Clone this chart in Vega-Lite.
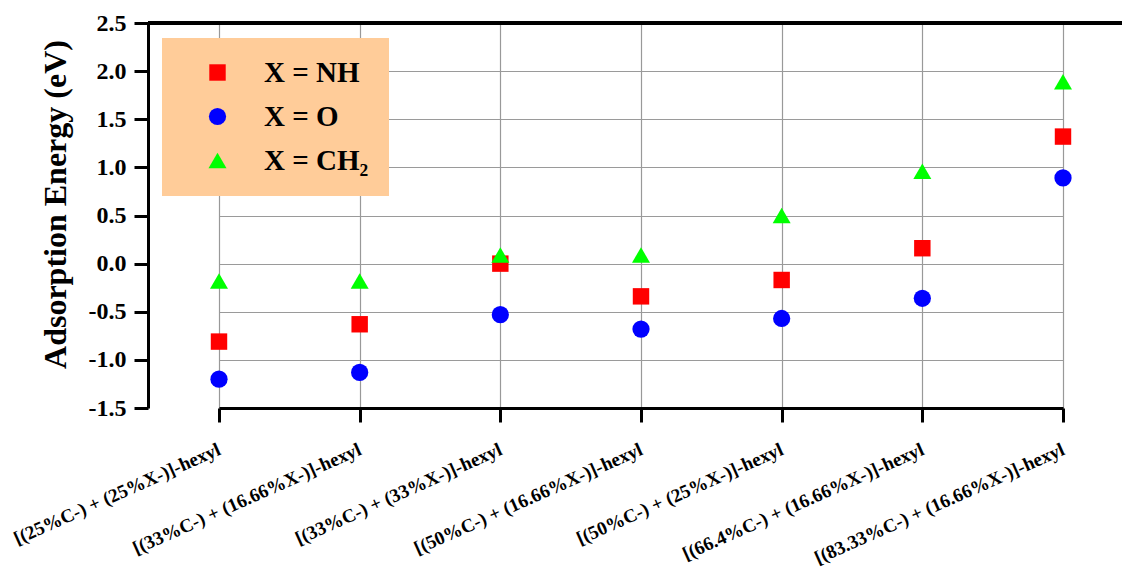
{
  "$schema": "https://vega.github.io/schema/vega-lite/v6.json",
  "autosize": {"type": "none"},
  "padding": {"left": 148, "top": 23, "right": 0, "bottom": 160},
  "width": 974,
  "height": 385,
  "config": {
    "view": {"stroke": null},
    "font": "Liberation Serif"
  },
  "data": {
    "values": [
      {"cat": "[(25%C-) + (25%X-)]-hexyl", "series": "X = NH", "energy": -0.81},
      {"cat": "[(25%C-) + (25%X-)]-hexyl", "series": "X = O", "energy": -1.2},
      {"cat": "[(25%C-) + (25%X-)]-hexyl", "series": "X = CH₂", "energy": -0.18},
      {"cat": "[(33%C-) + (16.66%X-)]-hexyl", "series": "X = NH", "energy": -0.63},
      {"cat": "[(33%C-) + (16.66%X-)]-hexyl", "series": "X = O", "energy": -1.13},
      {"cat": "[(33%C-) + (16.66%X-)]-hexyl", "series": "X = CH₂", "energy": -0.18},
      {"cat": "[(33%C-) + (33%X-)]-hexyl", "series": "X = NH", "energy": 0.0},
      {"cat": "[(33%C-) + (33%X-)]-hexyl", "series": "X = O", "energy": -0.53},
      {"cat": "[(33%C-) + (33%X-)]-hexyl", "series": "X = CH₂", "energy": 0.09},
      {"cat": "[(50%C-) + (16.66%X-)]-hexyl", "series": "X = NH", "energy": -0.34},
      {"cat": "[(50%C-) + (16.66%X-)]-hexyl", "series": "X = O", "energy": -0.68},
      {"cat": "[(50%C-) + (16.66%X-)]-hexyl", "series": "X = CH₂", "energy": 0.09},
      {"cat": "[(50%C-) + (25%X-)]-hexyl", "series": "X = NH", "energy": -0.17},
      {"cat": "[(50%C-) + (25%X-)]-hexyl", "series": "X = O", "energy": -0.57},
      {"cat": "[(50%C-) + (25%X-)]-hexyl", "series": "X = CH₂", "energy": 0.5},
      {"cat": "[(66.4%C-) + (16.66%X-)]-hexyl", "series": "X = NH", "energy": 0.16},
      {"cat": "[(66.4%C-) + (16.66%X-)]-hexyl", "series": "X = O", "energy": -0.36},
      {"cat": "[(66.4%C-) + (16.66%X-)]-hexyl", "series": "X = CH₂", "energy": 0.96},
      {"cat": "[(83.33%C-) + (16.66%X-)]-hexyl", "series": "X = NH", "energy": 1.32},
      {"cat": "[(83.33%C-) + (16.66%X-)]-hexyl", "series": "X = O", "energy": 0.89},
      {"cat": "[(83.33%C-) + (16.66%X-)]-hexyl", "series": "X = CH₂", "energy": 1.89}
    ]
  },
  "layer": [
    {
      "mark": {"type": "point", "filled": true, "opacity": 1},
      "encoding": {
        "x": {
          "field": "cat",
          "type": "nominal",
          "sort": null,
          "scale": {"type": "point", "range": [71, 915], "padding": 0},
          "axis": {
            "title": null,
            "labelAngle": -24,
            "labelAlign": "right",
            "labelBaseline": "middle",
            "labelFont": "Liberation Serif",
            "labelFontWeight": "bold",
            "labelFontSize": 19,
            "labelColor": "black",
            "labelPadding": 26,
            "labelOverlap": false,
            "labelLimit": 400,
            "tickSize": 14,
            "tickWidth": 3,
            "tickColor": "black",
            "domainColor": "black",
            "domainWidth": 3,
            "grid": true,
            "gridColor": "#999999",
            "gridWidth": 1.2
          }
        },
        "y": {
          "field": "energy",
          "type": "quantitative",
          "scale": {"domain": [-1.5, 2.5], "nice": false, "zero": false},
          "axis": {
            "title": "Adsorption Energy (eV)",
            "titleFont": "Liberation Serif",
            "titleFontWeight": "bold",
            "titleFontSize": 32,
            "titleColor": "black",
            "titlePadding": 16,
            "titleY": 181,
            "values": [-1.5, -1.25, -1, -0.75, -0.5, -0.25, 0, 0.25, 0.5, 0.75, 1, 1.25, 1.5, 1.75, 2, 2.25, 2.5],
            "labelExpr": "round(datum.value*2) == datum.value*2 ? (datum.value < 0 ? '-' : '') + format(abs(datum.value), '.1f') : ''",
            "labelFont": "Liberation Serif",
            "labelFontWeight": "bold",
            "labelFontSize": 24,
            "labelColor": "black",
            "labelPadding": 8,
            "labelOverlap": false,
            "tickSize": {"condition": {"test": "round(datum.value*2) == datum.value*2", "value": 14}, "value": 7},
            "tickWidth": 3,
            "tickColor": "black",
            "domainColor": "black",
            "domainWidth": 3,
            "grid": true,
            "gridColor": {"condition": {"test": "round(datum.value*2) == datum.value*2", "value": "#9a9a9a"}, "value": "#d0d0d0"},
            "gridDash": {"condition": {"test": "round(datum.value*2) == datum.value*2", "value": []}, "value": [4, 3]},
            "gridWidth": 1.2
          }
        },
        "color": {
          "field": "series",
          "type": "nominal",
          "scale": {"domain": ["X = NH", "X = O", "X = CH₂"], "range": ["#ff0000", "#0000ff", "#00ff00"]},
          "legend": {
            "title": null,
            "orient": "none",
            "legendX": 14,
            "legendY": 15,
            "fillColor": "#ffcc99",
            "padding": 20,
            "symbolOffset": 21,
            "labelOffset": 32,
            "rowPadding": 14,
            "labelFont": "Liberation Serif",
            "labelFontWeight": "bold",
            "labelFontSize": 29,
            "labelColor": "black",
            "labelLimit": 300,
            "symbolStrokeWidth": 0
          }
        },
        "shape": {
          "field": "series",
          "type": "nominal",
          "scale": {"domain": ["X = NH", "X = O", "X = CH₂"], "range": ["square", "circle", "triangle-up"]}
        },
        "size": {
          "field": "series",
          "type": "nominal",
          "scale": {"domain": ["X = NH", "X = O", "X = CH₂"], "range": [270, 324, 441]}
        }
      }
    },
    {
      "mark": {"type": "rule", "color": "black", "strokeWidth": 3},
      "encoding": {"y": {"datum": 2.5}}
    }
  ]
}
